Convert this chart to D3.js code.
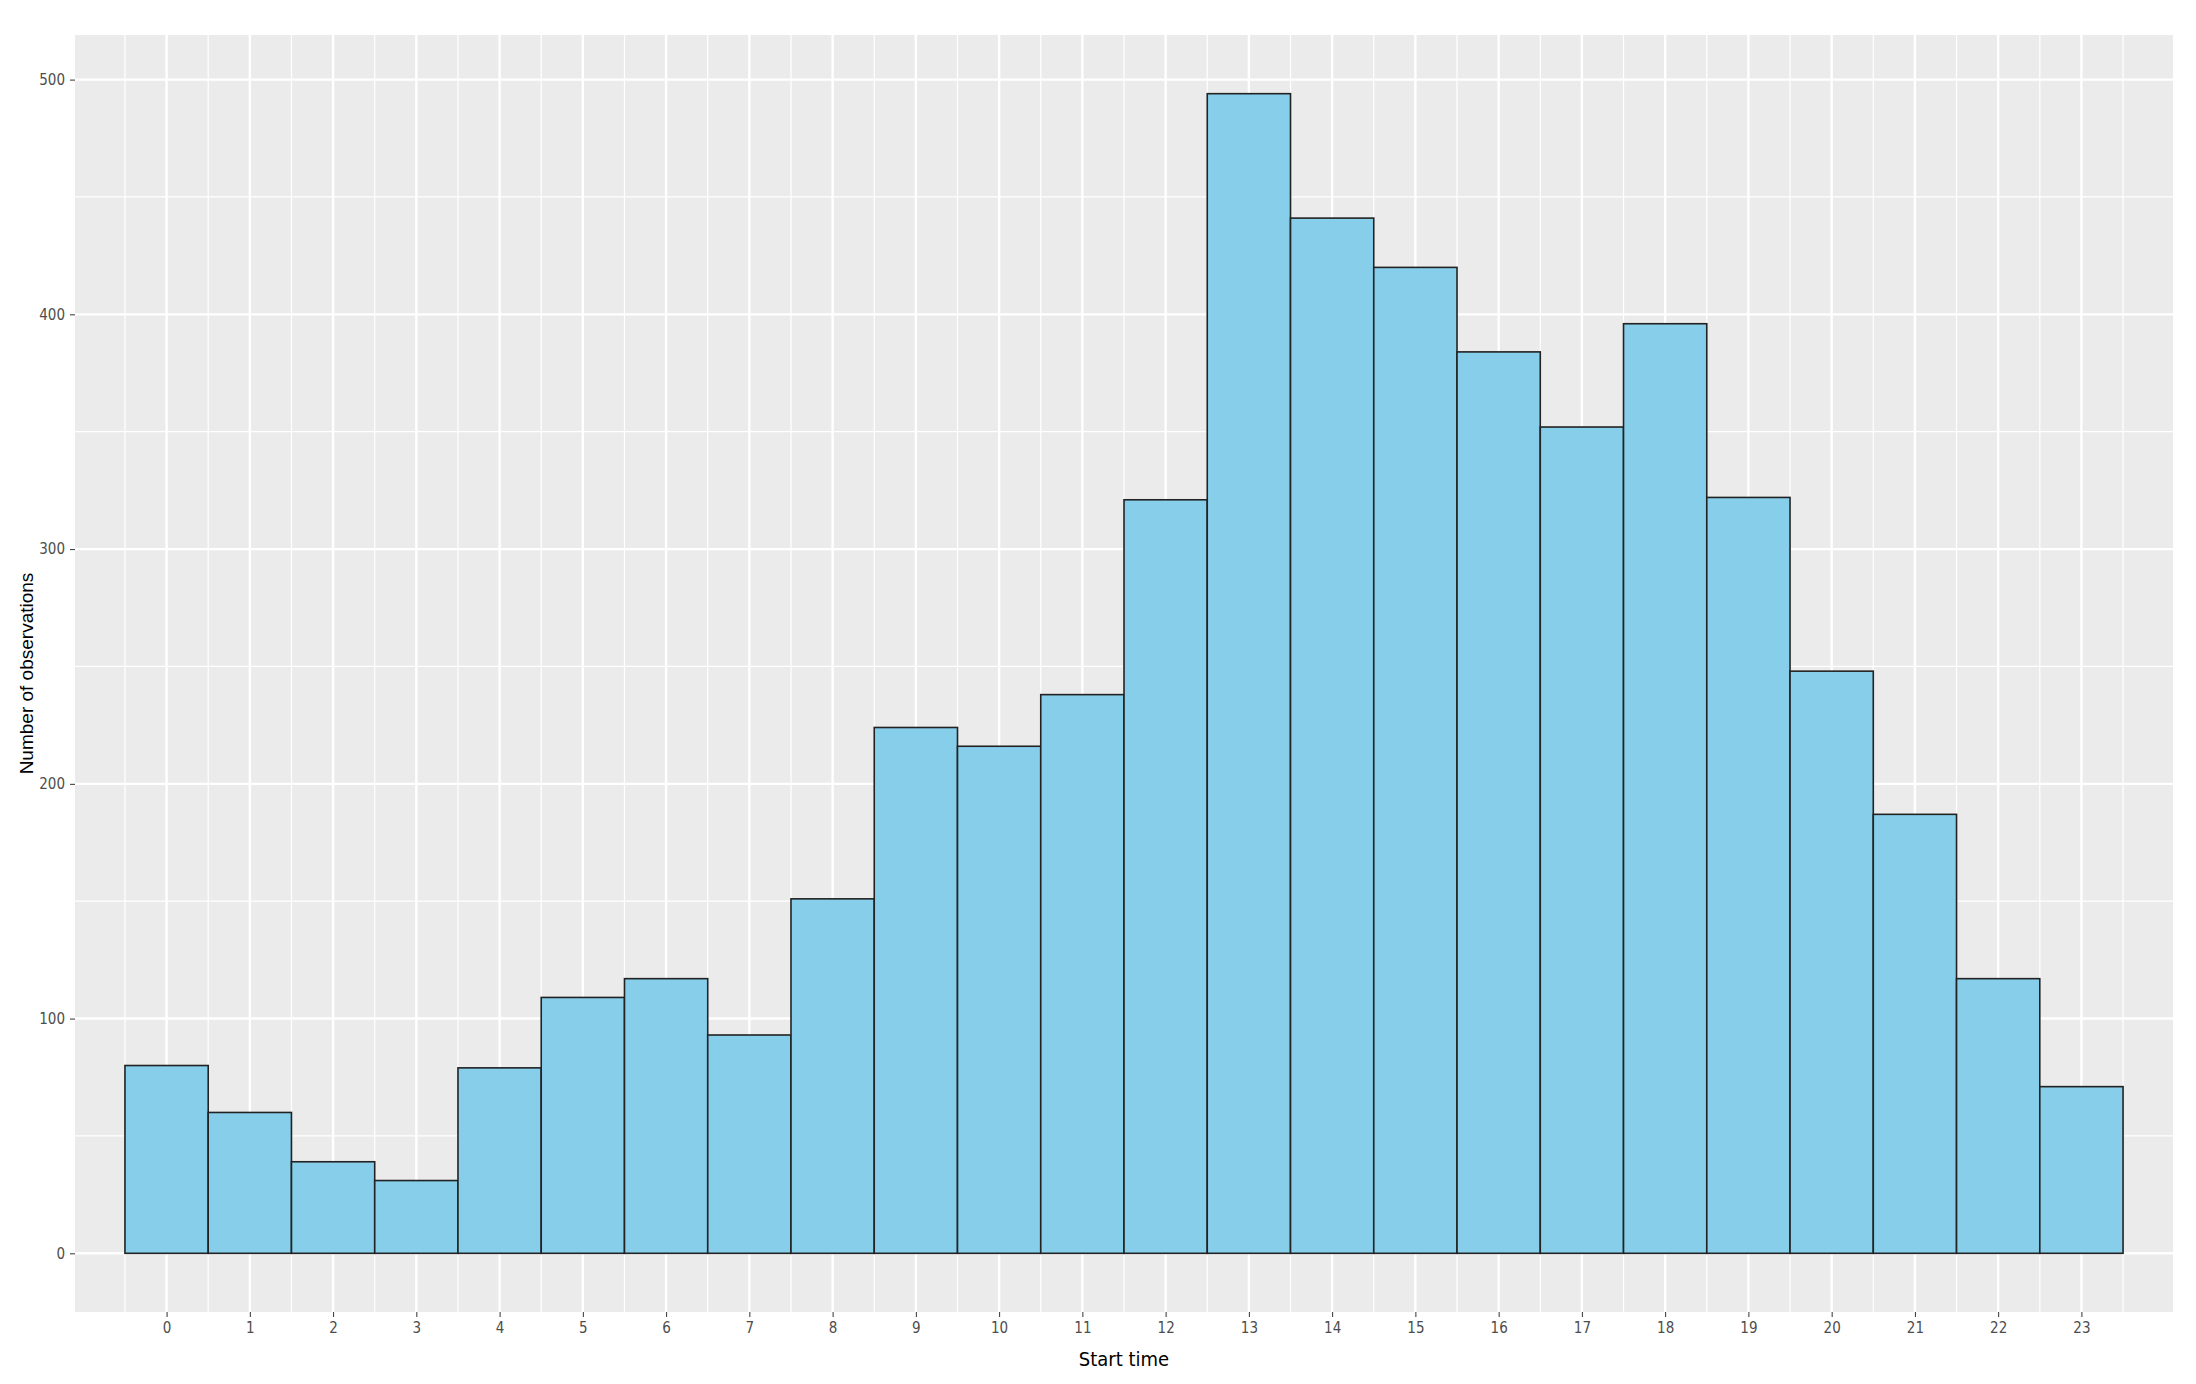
<!DOCTYPE html>
<html><head><meta charset="utf-8">
<script src="https://cdn.jsdelivr.net/npm/d3@7"></script>
<style>body{margin:0;background:#fff}</style></head>
<body><svg id="c" width="2196" height="1384"></svg>
<script>
const hours = d3.range(0,24);
const counts = [80,60,39,31,79,109,117,93,151,224,216,238,321,494,441,420,384,352,396,322,248,187,117,71];
const yTicks = [0,100,200,300,400,500];
const W=2196,H=1384, L=75, R=2173, T=35, B=1312;
const svg=d3.select("#c");
const x=d3.scaleLinear().domain([-1.1,24.1]).range([L,R]);
const y=d3.scaleLinear().domain([-25,519]).range([B,T]);
svg.append("rect").attr("x",L).attr("y",T).attr("width",R-L).attr("height",B-T).attr("fill","#ebebeb");
const minorY=d3.range(50,520,100);
svg.selectAll(".my").data(minorY).enter().append("line").attr("x1",L).attr("x2",R).attr("y1",d=>y(d)).attr("y2",d=>y(d)).attr("stroke","#fff").attr("stroke-width",1.2);
svg.selectAll(".mx").data(d3.range(-0.5,24,1)).enter().append("line").attr("y1",T).attr("y2",B).attr("x1",d=>x(d)).attr("x2",d=>x(d)).attr("stroke","#fff").attr("stroke-width",1.2);
svg.selectAll(".gy").data(yTicks).enter().append("line").attr("x1",L).attr("x2",R).attr("y1",d=>y(d)).attr("y2",d=>y(d)).attr("stroke","#fff").attr("stroke-width",2.4);
svg.selectAll(".gx").data(hours).enter().append("line").attr("y1",T).attr("y2",B).attr("x1",d=>x(d)).attr("x2",d=>x(d)).attr("stroke","#fff").attr("stroke-width",2.4);
svg.selectAll(".bar").data(counts).enter().append("rect")
 .attr("x",(d,i)=>x(i-0.5)).attr("width",x(1)-x(0)).attr("y",d=>y(d)).attr("height",d=>y(0)-y(d))
 .attr("fill","#87ceeb").attr("stroke","#222").attr("stroke-width",1.6);
const ax=d3.axisBottom(x).tickValues(hours).tickSize(5).tickPadding(5);
const gx=svg.append("g").attr("transform",`translate(0,${B})`).call(ax);
const ay=d3.axisLeft(y).tickValues(yTicks).tickSize(5).tickPadding(5);
const gy=svg.append("g").attr("transform",`translate(${L},0)`).call(ay);
[gx,gy].forEach(g=>{g.select(".domain").remove();g.selectAll("line").attr("stroke","#333");
 g.selectAll("text").attr("fill","#4d4d4d").style("font-family","'Liberation Sans Narrow','DejaVu Sans Condensed',Arial").style("font-size","15px");});
svg.append("text").attr("x",(L+R)/2).attr("y",1366).attr("text-anchor","middle").style("font-family","'Liberation Sans Narrow','DejaVu Sans Condensed',Arial").style("font-size","20px").text("Start time");
svg.append("text").attr("transform",`translate(33,${(T+B)/2}) rotate(-90)`).attr("text-anchor","middle").style("font-family","'Liberation Sans',Arial").style("font-size","19px").text("Number of observations");
</script></body></html>
